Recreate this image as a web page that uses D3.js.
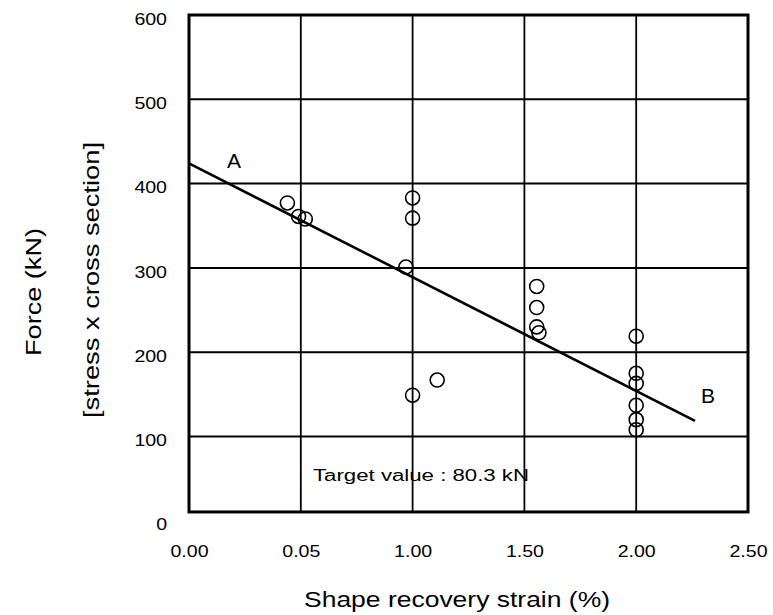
<!DOCTYPE html>
<html><head><meta charset="utf-8">
<script src="https://cdn.jsdelivr.net/npm/d3@7"></script>
<style>body{margin:0;background:#fff}svg{display:block}text{font-family:"Liberation Sans",Arial,sans-serif;fill:#000}</style>
</head><body>
<svg id="c" width="773" height="615"></svg>
<script>
// data
const xTicks = [0, 0.5, 1.0, 1.5, 2.0, 2.5];
const xTickLabels = ["0.00", "0.05", "1.00", "1.50", "2.00", "2.50"];
const yTicks = [0, 100, 200, 300, 400, 500, 600];
const yTickLabels = ["0", "100", "200", "300", "400", "500", "600"];
const strain = [0.44, 0.49, 0.52, 0.97, 1.0, 1.0, 1.0, 1.11, 1.555, 1.555, 1.555, 1.565, 2.0, 2.0, 2.0, 2.0, 2.0, 2.0];
const force  = [377, 361, 358, 301, 383, 359, 149, 167, 278, 253, 230, 223, 219, 175, 163, 137, 120, 108];
const fitX = [0, 2.263];
const fitY = [424, 118.5];
const yFloor = 10.5; // plot frame bottom value
const xTitle = "Shape recovery strain (%)";
const yTitle1 = "Force  (kN)";
const yTitle2 = "[stress x cross section]";
const note = "Target value : 80.3 kN";

(function () {
const FONT = '"Liberation Sans",Arial,sans-serif';
function stretch(sel, f) {
  sel.each(function () {
    const w = this.getComputedTextLength();
    d3.select(this).attr("textLength", w * f).attr("lengthAdjust", "spacingAndGlyphs");
  });
}
const svg = d3.select("#c");
const x = d3.scaleLinear().domain([0, 2.5]).range([189, 748]);
const y = d3.scaleLinear().domain([0, 600]).range([520.8, 15]);
const pTop = y(600), pBot = y(yFloor), pLeft = x(0), pRight = x(2.5);

// gridlines
const g = svg.append("g");
g.selectAll("line.h").data(yTicks.filter(v => v > 0 && v < 600)).join("line")
  .attr("x1", pLeft).attr("x2", pRight).attr("y1", d => y(d)).attr("y2", d => y(d))
  .attr("stroke", "#000").attr("stroke-width", 2);
g.selectAll("line.v").data(xTicks.filter(v => v > 0 && v < 2.5)).join("line")
  .attr("y1", pTop).attr("y2", pBot).attr("x1", d => x(d)).attr("x2", d => x(d))
  .attr("stroke", "#000").attr("stroke-width", 1.8);
// frame
g.append("rect").attr("x", pLeft).attr("y", pTop).attr("width", pRight - pLeft).attr("height", pBot - pTop)
  .attr("fill", "none").attr("stroke", "#000").attr("stroke-width", 3);

// y axis labels
const ya = svg.append("g").attr("transform", `translate(${pLeft},0)`)
  .call(d3.axisLeft(y).tickValues(yTicks).tickFormat((d, i) => yTickLabels[i]).tickSize(0).tickPadding(22));
ya.select(".domain").remove();
ya.selectAll("text").style("font-size", "17px").style("font-family", FONT).attr("dy", "0.36em").attr("y", 3);
stretch(ya.selectAll("text"), 1.15);

// x axis labels
const xa = svg.append("g").attr("transform", `translate(0,${pBot})`)
  .call(d3.axisBottom(x).tickValues(xTicks).tickFormat((d, i) => xTickLabels[i]).tickSize(0).tickPadding(33));
xa.select(".domain").remove();
xa.selectAll("text").style("font-size", "17px").style("font-family", FONT);
stretch(xa.selectAll("text"), 1.15);

// fit line
svg.append("line").attr("x1", x(fitX[0])).attr("y1", y(fitY[0])).attr("x2", x(fitX[1])).attr("y2", y(fitY[1]))
  .attr("stroke", "#000").attr("stroke-width", 2.6);

// points
svg.append("g").selectAll("circle").data(strain.map((s, i) => [s, force[i]])).join("circle")
  .attr("cx", d => x(d[0])).attr("cy", d => y(d[1])).attr("r", 7)
  .attr("fill", "none").attr("stroke", "#000").attr("stroke-width", 1.6);

// labels
svg.append("text").attr("x", 234).attr("y", 168).attr("text-anchor", "middle").style("font-size", "21px").text("A");
svg.append("text").attr("x", 708).attr("y", 403).attr("text-anchor", "middle").style("font-size", "21px").text("B");
svg.append("text").attr("x", 313).attr("y", 481).style("font-size", "16px").text(note)
  .attr("textLength", 216).attr("lengthAdjust", "spacingAndGlyphs");

// titles
svg.append("text").attr("x", 457).attr("y", 607).attr("text-anchor", "middle").style("font-size", "22px").text(xTitle)
  .attr("textLength", 306).attr("lengthAdjust", "spacingAndGlyphs");
svg.append("text").attr("transform", "translate(41,292) rotate(-90)").attr("text-anchor", "middle").style("font-size", "22px").text(yTitle1)
  .attr("textLength", 128).attr("lengthAdjust", "spacingAndGlyphs");
svg.append("text").attr("transform", "translate(99,280) rotate(-90)").attr("text-anchor", "middle").style("font-size", "22px").text(yTitle2)
  .attr("textLength", 276).attr("lengthAdjust", "spacingAndGlyphs");
})();
</script>
</body></html>
